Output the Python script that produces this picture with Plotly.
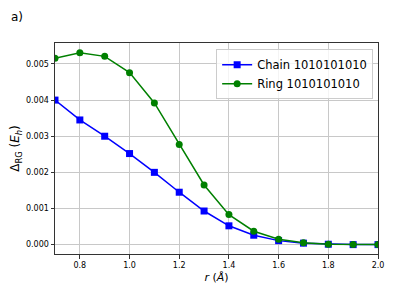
import plotly.graph_objects as go

r = [0.7, 0.8, 0.9, 1.0, 1.1, 1.2, 1.3, 1.4, 1.5, 1.6, 1.7, 1.8, 1.9, 2.0]
chain = [0.00400, 0.00345, 0.00300, 0.00252, 0.00200, 0.00145, 0.00093,
         0.00052, 0.00026, 0.00011, 0.00004, 0.00001, 0.0, 0.0]
ring = [0.00516, 0.00531, 0.00521, 0.00476, 0.00392, 0.00277, 0.00165,
        0.00083, 0.00037, 0.00015, 0.00005, 0.00001, 0.0, 0.0]

fig = go.Figure()
fig.add_trace(
    go.Scatter(x=r, y=chain, mode="lines+markers", name="Chain 1010101010",
               line=dict(color="blue", width=1.5),
               marker=dict(symbol="square", size=7, color="blue"))
)
fig.add_trace(
    go.Scatter(x=r, y=ring, mode="lines+markers", name="Ring 1010101010",
               line=dict(color="green", width=1.5),
               marker=dict(symbol="circle", size=7, color="green"))
)

axis_common = dict(
    showgrid=True, gridcolor="#c8c8c8", gridwidth=1,
    showline=True, linecolor="#333333", linewidth=1, mirror=True,
    ticks="outside", ticklen=3.5, tickcolor="#333333",
    zeroline=False, tickfont=dict(size=8, color="black"),
    automargin=False,
)

# page has an 8px body margin, so the figure is a bit smaller than the window
fig.update_layout(
    width=386, height=288,
    margin=dict(l=47, r=16, t=35, b=42),
    paper_bgcolor="white", plot_bgcolor="white",
    font=dict(family="DejaVu Sans", color="black"),
    showlegend=True,
    legend=dict(x=0.985, y=0.97, xanchor="right", yanchor="top",
                bordercolor="#cccccc", borderwidth=1, bgcolor="rgba(255,255,255,0.8)",
                font=dict(size=11.5), itemwidth=30, tracegroupgap=0),
    annotations=[dict(text="a)", x=-0.142, y=1.123, xref="paper", yref="paper",
                      xanchor="left", yanchor="middle",
                      showarrow=False, font=dict(size=12))],
)

fig.update_xaxes(axis_common, range=[0.7, 2.0], tickvals=[0.8, 1.0, 1.2, 1.4, 1.6, 1.8, 2.0],
                 tickformat=".1f",
                 title=dict(text="<i>r</i> (<i>Å</i>)", font=dict(size=11), standoff=4))
fig.update_yaxes(axis_common, range=[-0.00026, 0.00558],
                 tickvals=[0, 0.001, 0.002, 0.003, 0.004, 0.005], tickformat=".3f",
                 title=dict(text="Δ<sub>RG</sub> (<i>E<sub>h</sub></i>)", font=dict(size=12), standoff=8))

fig.write_html("out.html")
